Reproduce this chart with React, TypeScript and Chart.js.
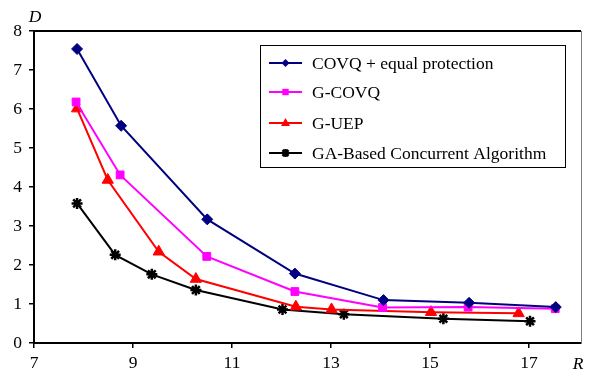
import React, { useEffect, useRef } from "react";
import { Chart, registerables } from "chart.js";

Chart.register(...registerables);

const R_COVQ = [7.87, 8.76, 10.5, 12.27, 14.06, 15.79, 17.54];
const D_COVQ = [7.54, 5.57, 3.17, 1.78, 1.1, 1.03, 0.92];
const R_GCOVQ = [7.85, 8.74, 10.49, 12.27, 14.04, 15.77, 17.53];
const D_GCOVQ = [6.18, 4.31, 2.22, 1.32, 0.91, 0.92, 0.88];
const R_GUEP = [7.87, 8.49, 9.52, 10.27, 12.29, 13.01, 15.02, 16.79];
const D_GUEP = [6.01, 4.18, 2.34, 1.64, 0.93, 0.86, 0.79, 0.76];
const R_GA = [7.87, 8.64, 9.38, 10.27, 12.02, 13.26, 15.27, 17.02];
const D_GA = [3.58, 2.26, 1.76, 1.36, 0.86, 0.74, 0.62, 0.56];

const SERIES_NAMES = [
  "COVQ + equal protection",
  "G-COVQ",
  "G-UEP",
  "GA-Based Concurrent Algorithm",
];
const X_TICKS = [7, 9, 11, 13, 15, 17];
const Y_TICKS = [0, 1, 2, 3, 4, 5, 6, 7, 8];

const FONT = "'Liberation Serif', 'Times New Roman', serif";

const STYLES = [
  { color: "#000080", marker: "rectRot", radius: 5.5, bw: 1 },
  { color: "#FF00FF", marker: "rect", radius: 5.5, bw: 1 },
  { color: "#FF0000", marker: "triangle", radius: 6.5, bw: 1 },
  { color: "#000000", marker: "star", radius: 5.5, bw: 2.5 },
];

const toPts = (xs: number[], ys: number[]) => xs.map((x, i) => ({ x, y: ys[i] }));

function drawMarker(ctx: any, style: string, r: number, x: number, y: number, color: string, bw: number) {
  ctx.save();
  ctx.fillStyle = color;
  ctx.strokeStyle = color;
  ctx.lineWidth = bw;
  ctx.beginPath();
  if (style === "rectRot") {
    ctx.moveTo(x, y - r);
    ctx.lineTo(x + r, y);
    ctx.lineTo(x, y + r);
    ctx.lineTo(x - r, y);
    ctx.closePath();
    ctx.fill();
  } else if (style === "rect") {
    const s = r * 0.8;
    ctx.rect(x - s, y - s, 2 * s, 2 * s);
    ctx.fill();
  } else if (style === "triangle") {
    ctx.moveTo(x, y - r);
    ctx.lineTo(x + r * 0.9, y + r * 0.6);
    ctx.lineTo(x - r * 0.9, y + r * 0.6);
    ctx.closePath();
    ctx.fill();
  } else {
    const d = r * 0.75;
    ctx.moveTo(x - d, y - d);
    ctx.lineTo(x + d, y + d);
    ctx.moveTo(x + d, y - d);
    ctx.lineTo(x - d, y + d);
    ctx.moveTo(x, y - r);
    ctx.lineTo(x, y + r);
    ctx.stroke();
  }
  ctx.restore();
}

const overlayPlugin = {
  id: "overlay",
  afterDraw(chart: any) {
    const ctx = chart.ctx;
    const a = chart.chartArea;
    ctx.save();
    ctx.strokeStyle = "#000";
    ctx.lineWidth = 2;
    ctx.beginPath();
    ctx.moveTo(a.left, a.top);
    ctx.lineTo(a.right, a.top);
    ctx.stroke();
    ctx.strokeStyle = "#808080";
    ctx.lineWidth = 1;
    ctx.beginPath();
    ctx.moveTo(a.right + 0.5, a.top);
    ctx.lineTo(a.right + 0.5, a.bottom);
    ctx.stroke();

    ctx.fillStyle = "#000";
    ctx.font = "italic 17.5px " + FONT;
    ctx.textAlign = "center";
    ctx.textBaseline = "middle";
    ctx.fillText("D", a.left + 1, a.top - 14);
    ctx.fillText("R", a.right - 3, a.bottom + 21);

    const bx = 260, by = 45, bw = 305, bh = 122;
    ctx.fillStyle = "#fff";
    ctx.fillRect(bx, by, bw, bh);
    ctx.strokeStyle = "#000";
    ctx.lineWidth = 1;
    ctx.strokeRect(bx + 0.5, by + 0.5, bw, bh);
    const rows = [63, 92, 123, 153];
    ctx.font = "17.5px " + FONT;
    ctx.textAlign = "left";
    SERIES_NAMES.forEach((name, i) => {
      const st = STYLES[i];
      const y = rows[i];
      ctx.strokeStyle = st.color;
      ctx.lineWidth = 2;
      ctx.beginPath();
      ctx.moveTo(269, y);
      ctx.lineTo(302, y);
      ctx.stroke();
      drawMarker(ctx, st.marker, st.radius - 1.5, 285.5, y, st.color, st.bw);
      ctx.fillStyle = "#000";
      ctx.fillText(name, 312, y + 1);
    });
    ctx.restore();
  },
};

export default function App() {
  const ref = useRef<HTMLCanvasElement | null>(null);
  useEffect(() => {
    if (!ref.current) return;
    const series = [
      toPts(R_COVQ, D_COVQ),
      toPts(R_GCOVQ, D_GCOVQ),
      toPts(R_GUEP, D_GUEP),
      toPts(R_GA, D_GA),
    ];
    const chart = new Chart(ref.current, {
      type: "line",
      data: {
        datasets: series.map((data, i) => ({
          label: SERIES_NAMES[i],
          data,
          borderColor: STYLES[i].color,
          backgroundColor: STYLES[i].color,
          borderWidth: 2,
          pointStyle: STYLES[i].marker as any,
          pointRadius: STYLES[i].radius,
          pointBorderWidth: STYLES[i].bw,
          pointBorderColor: STYLES[i].color,
          pointBackgroundColor: STYLES[i].color,
          tension: 0,
          fill: false,
        })),
      },
      options: {
        animation: false,
        responsive: false,
        devicePixelRatio: 1,
        layout: { padding: { left: 0, top: 31, right: 8, bottom: 0 } },
        plugins: { legend: { display: false }, tooltip: { enabled: false } },
        scales: {
          x: {
            type: "linear",
            min: 7,
            max: 18.05,
            afterBuildTicks: (s: any) => {
              s.ticks = X_TICKS.map((v) => ({ value: v }));
            },
            afterFit: (s: any) => {
              s.height = 31;
            },
            border: { display: true, color: "#000", width: 2 },
            grid: { display: true, drawOnChartArea: false, drawTicks: true, tickLength: 5, color: "#000", lineWidth: 1.5 },
            ticks: { color: "#000", font: { family: FONT, size: 17.5 }, padding: 5, maxRotation: 0, autoSkip: false },
          },
          y: {
            type: "linear",
            min: 0,
            max: 8,
            afterBuildTicks: (s: any) => {
              s.ticks = Y_TICKS.map((v) => ({ value: v }));
            },
            afterFit: (s: any) => {
              s.width = 34;
            },
            border: { display: true, color: "#000", width: 2 },
            grid: { display: true, drawOnChartArea: false, drawTicks: true, tickLength: 5, color: "#000", lineWidth: 1.5 },
            ticks: { color: "#000", font: { family: FONT, size: 17.5 }, padding: 7 },
          },
        },
      },
      plugins: [overlayPlugin],
    } as any);
    return () => chart.destroy();
  }, []);
  return (
    <div style={{ position: "fixed", left: 0, top: 0, width: 589, height: 374, background: "#fff" }}>
      <canvas ref={ref} width={589} height={374} style={{ width: 589, height: 374, display: "block" }} />
    </div>
  );
}
